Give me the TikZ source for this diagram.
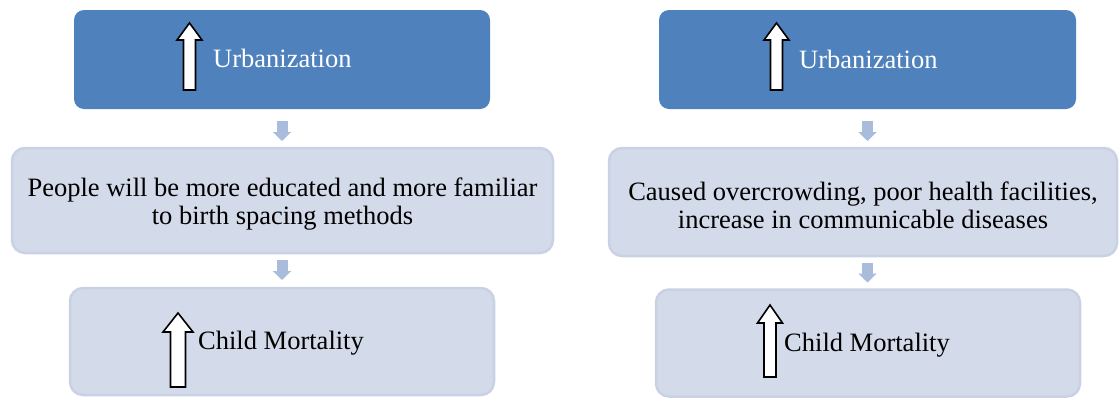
\documentclass[tikz,border=0pt]{standalone}
\usepackage{fontspec}
\setmainfont{Liberation Serif}
\newfontfamily\timesfont{Liberation Serif}
\usetikzlibrary{arrows.meta}

\definecolor{topblue}{HTML}{4F81BD}
\definecolor{lightbox}{HTML}{D3DAE9}
\definecolor{lightedge}{HTML}{C9D2E5}
\definecolor{linkblue}{HTML}{A9BCDB}

\tikzset{
  topbox/.style={rectangle, rounded corners=10pt, fill=topblue, inner sep=0pt, outer sep=0pt},
  stepbox/.style={rectangle, rounded corners=13pt, fill=lightbox, draw=lightedge, line width=2.5pt,
    inner sep=0pt, outer sep=0pt},
  midtext/.style={inner sep=0pt, align=center, font=\timesfont\fontsize{26.5}{28}\selectfont},
  boxtext/.style={inner sep=0pt, anchor=base west, font=\timesfont\fontsize{26.5}{28}\selectfont},
  link/.style={draw=linkblue, line width=11pt, -{Triangle[width=18pt,length=9pt]}},
  uparrow/.style={draw=black, fill=white, line width=1.6pt, line join=miter}
}

% hollow up arrow: x, tip y, bottom y, head length, half head width, half shaft width
\newcommand{\upblock}[6]{%
  \draw[uparrow] (#1-#6,#3) -- (#1-#6,#2+#4) -- (#1-#5,#2+#4) -- (#1,#2)
    -- (#1+#5,#2+#4) -- (#1+#6,#2+#4) -- (#1+#6,#3) -- cycle;}

\begin{document}
\begin{tikzpicture}[x=1pt, y=-1pt]
  \useasboundingbox (0,0) rectangle (1119,397);
  \clip (0,0) rectangle (1119,397);

  % left chain
  \node[topbox, minimum width=416pt, minimum height=99pt] (ltop) at (282,59.5) {};
  \node[stepbox, minimum width=541pt, minimum height=105pt] (lmid) at (282.5,200.5) {};
  \node[midtext] (lmidtext) at ([yshift=-4pt]lmid.center)
    {People will be more educated and more familiar\\to birth spacing methods};
  \node[stepbox, minimum width=424pt, minimum height=107pt] (lbot) at (282,341.5) {};

  \upblock{189.5}{23}{90}{17}{12.5}{6}
  \node[boxtext, text=white] (lurb) at (213,67) {Urbanization};
  \upblock{178}{313}{387}{19}{15}{7.5}
  \node[boxtext] (lchild) at (198,349) {Child Mortality};

  \draw[link, shorten <=12pt, shorten >=7pt] (ltop.south) -- (ltop.south |- lmid.north);
  \draw[link, shorten <=7pt, shorten >=8pt] (ltop.south |- lmid.south) -- (ltop.south |- lbot.north);

  % right chain
  \node[topbox, minimum width=417pt, minimum height=99pt] (rtop) at (867.5,59.5) {};
  \node[stepbox, minimum width=508pt, minimum height=108pt] (rmid) at (863,202) {};
  \node[midtext] (rmidtext) at ([yshift=-3pt]rmid.center)
    {Caused overcrowding, poor health facilities,\\increase in communicable diseases};
  \node[stepbox, minimum width=424pt, minimum height=107pt] (rbot) at (868,343) {};

  \upblock{776.5}{23}{90}{17}{12.5}{6}
  \node[boxtext, text=white] (rurb) at (799,68) {Urbanization};
  \upblock{770}{305}{377}{18}{12.5}{6}
  \node[boxtext] (rchild) at (784,351) {Child Mortality};

  \draw[link, shorten <=12pt, shorten >=7pt] (rtop.south) -- (rtop.south |- rmid.north);
  \draw[link, shorten <=7pt, shorten >=7pt] (rtop.south |- rmid.south) -- (rtop.south |- rbot.north);
\end{tikzpicture}
\end{document}
